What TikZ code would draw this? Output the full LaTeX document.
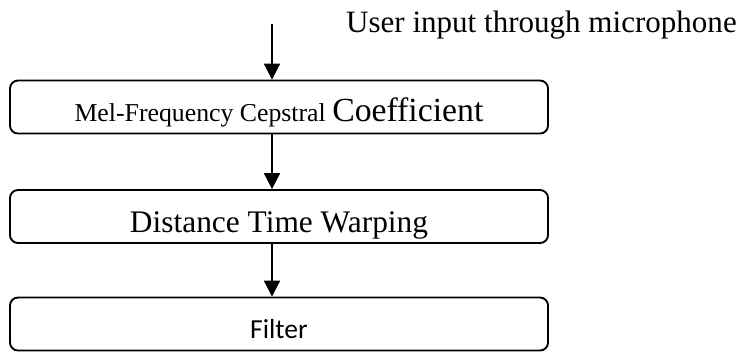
\documentclass[tikz,border=0pt]{standalone}
\usepackage{fontspec}
\setmainfont{Liberation Serif}
\newfontfamily\calibrifont{Carlito}
\usepackage{tikz}
\usetikzlibrary{positioning}
\usetikzlibrary{arrows.meta}

\begin{document}
\begin{tikzpicture}[x=0.03cm,y=-0.03cm,
    stage/.style={draw=black, line width=1.6pt, rounded corners=0.24cm,
        minimum width=16.14cm, minimum height=1.59cm, inner sep=0pt, text depth=0pt},
    flow/.style={black, line width=1.8pt, -{Triangle[length=0.48cm,width=0.48cm]}}]

\useasboundingbox (0,0) rectangle (741,352);

% input
\coordinate (in) at (272,24);
\node[anchor=base east, inner xsep=0pt] (mic) at (737,32) {\fontsize{26.5}{30}\selectfont User input through microphone};

% stages
\node[stage, text height=23.9pt] (mfcc) at (279,107) {\fontsize{22}{25}\selectfont Mel-Frequency Cepstral \fontsize{28.8}{32}\selectfont Coefficient};
\node[stage, text height=26.5pt] (dtw) at (279,216.5) {\fontsize{26.8}{30}\selectfont Distance Time Warping};
\node[stage, text height=24.8pt] (filter) at (279,324) {\calibrifont\fontsize{23.5}{26}\selectfont Filter};

\draw[flow] (in) -- (in |- mfcc.north);
\draw[flow] (mfcc.south -| in) -- (dtw.north -| in);
\draw[flow] (dtw.south -| in) -- (filter.north -| in);

\end{tikzpicture}
\end{document}
